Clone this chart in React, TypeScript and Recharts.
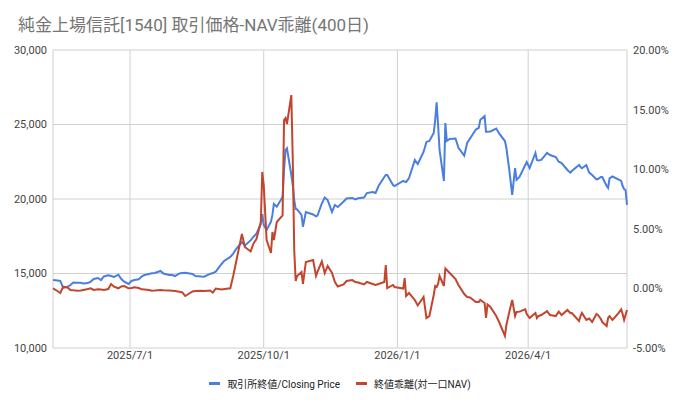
import {
  CartesianGrid,
  ComposedChart,
  Line,
  XAxis,
  YAxis,
} from "recharts";

const dates = [
  "2025-05-09", "2025-05-12", "2025-05-14", "2025-05-16", "2025-05-19", "2025-05-21", "2025-05-23", "2025-05-26", "2025-05-28", "2025-05-30",
  "2025-06-02", "2025-06-04", "2025-06-06", "2025-06-09", "2025-06-11", "2025-06-13", "2025-06-16", "2025-06-18", "2025-06-20", "2025-06-23",
  "2025-06-25", "2025-06-27", "2025-06-30", "2025-07-02", "2025-07-04", "2025-07-07", "2025-07-09", "2025-07-11", "2025-07-14", "2025-07-16",
  "2025-07-18", "2025-07-22", "2025-07-24", "2025-07-28", "2025-07-30", "2025-08-01", "2025-08-04", "2025-08-06", "2025-08-08", "2025-08-13",
  "2025-08-15", "2025-08-19", "2025-08-21", "2025-08-25", "2025-08-27", "2025-08-29", "2025-09-02", "2025-09-04", "2025-09-08", "2025-09-10",
  "2025-09-12", "2025-09-16", "2025-09-18", "2025-09-22", "2025-09-24", "2025-09-26", "2025-09-29", "2025-09-30", "2025-10-01", "2025-10-03",
  "2025-10-06", "2025-10-07", "2025-10-08", "2025-10-10", "2025-10-14", "2025-10-15", "2025-10-16", "2025-10-17", "2025-10-20", "2025-10-21",
  "2025-10-22", "2025-10-23", "2025-10-24", "2025-10-27", "2025-10-28", "2025-10-30", "2025-11-04", "2025-11-06", "2025-11-07", "2025-11-10",
  "2025-11-12", "2025-11-14", "2025-11-17", "2025-11-19", "2025-11-21", "2025-11-25", "2025-11-27", "2025-12-01", "2025-12-03", "2025-12-05",
  "2025-12-09", "2025-12-11", "2025-12-15", "2025-12-17", "2025-12-19", "2025-12-23", "2025-12-24", "2025-12-25", "2025-12-29", "2025-12-30",
  "2026-01-05", "2026-01-06", "2026-01-07", "2026-01-09", "2026-01-13", "2026-01-15", "2026-01-19", "2026-01-21", "2026-01-23", "2026-01-26",
  "2026-01-27", "2026-01-28", "2026-01-29", "2026-01-30", "2026-02-02", "2026-02-03", "2026-02-04", "2026-02-06", "2026-02-10", "2026-02-12",
  "2026-02-16", "2026-02-18", "2026-02-20", "2026-02-24", "2026-02-26", "2026-02-27", "2026-03-02", "2026-03-03", "2026-03-04", "2026-03-06",
  "2026-03-10", "2026-03-12", "2026-03-16", "2026-03-17", "2026-03-19", "2026-03-21", "2026-03-23", "2026-03-24", "2026-03-26", "2026-03-30",
  "2026-03-31", "2026-04-02", "2026-04-06", "2026-04-07", "2026-04-08", "2026-04-10", "2026-04-14", "2026-04-16", "2026-04-20", "2026-04-22",
  "2026-04-24", "2026-04-28", "2026-04-30", "2026-05-01", "2026-05-06", "2026-05-07", "2026-05-08", "2026-05-11", "2026-05-13", "2026-05-15",
  "2026-05-18", "2026-05-19", "2026-05-21", "2026-05-22", "2026-05-25", "2026-05-26", "2026-05-27", "2026-05-29", "2026-06-02", "2026-06-04",
  "2026-06-05", "2026-06-06", "2026-06-07", "2026-06-08",
];

// 取引所終値 (円)
const closingPrice = [
  14560, 14530, 14500, 14030, 14100, 14230, 14400, 14380, 14380, 14330,
  14360, 14460, 14630, 14700, 14560, 14800, 14880, 14830, 14770, 14920,
  14630, 14450, 14300, 14500, 14560, 14610, 14800, 14900, 14970, 15010,
  15030, 15170, 15000, 14900, 14900, 14830, 15000, 15030, 15050, 14970,
  14830, 14800, 14790, 14970, 15030, 15120, 15640, 15860, 16110, 16340,
  16640, 17110, 16880, 17220, 17470, 17680, 18320, 18990, 18260, 17920,
  18480, 18930, 19670, 19480, 20130, 21950, 23290, 23400, 21610, 20940,
  19930, 19330, 19300, 18930, 18140, 19130, 18960, 18830, 18890, 19710,
  20100, 19930, 19130, 19600, 19460, 19830, 20030, 20070, 19970, 20050,
  20100, 20400, 20470, 20400, 20870, 21480, 21610, 21610, 20940, 20870,
  21210, 21170, 21140, 21410, 22620, 22350, 23160, 23830, 23900, 24430,
  25300, 26490, 24970, 23290, 21210, 25100, 23900, 24030, 24060, 23440,
  22910, 23760, 24060, 24660, 24770, 25300, 25570, 24520, 24520, 24530,
  24730, 24400, 23890, 23420, 21950, 20270, 22080, 21280, 21480, 22280,
  22480, 22080, 23090, 22620, 22580, 22620, 23090, 22950, 22820, 22500,
  22410, 21950, 21770, 21880, 22280, 22150, 22060, 22280, 21770, 21610,
  21310, 21340, 21480, 21480, 20870, 20740, 21380, 21510, 21310, 21210,
  20870, 20670, 20600, 19600,
];

// 終値乖離 (対一口NAV, %)
const navDeviation = [
  0.01, -0.22, -0.39, 0.14, 0.08, -0.13, -0.16, -0.19, -0.18, -0.13,
  -0.05, 0.01, -0.13, -0.08, -0.09, -0.13, -0.05, 0.37, 0.14, 0.01,
  0.16, 0.2, 0.01, 0.03, 0.09, 0.03, -0.08, -0.09, -0.13, -0.19,
  -0.18, -0.13, -0.16, -0.18, -0.19, -0.22, -0.28, -0.34, -0.64, -0.26,
  -0.22, -0.19, -0.22, -0.18, -0.36, -0.01, -0.09, -0.05, 0.01, 1.04,
  2.21, 4.56, 3.47, 3.1, 3.78, 4.14, 5.57, 9.77, 8.67, 4.06,
  2.97, 4.73, 4.06, 5.57, 6.12, 14.13, 14.29, 13.79, 16.22, 10.77,
  3.22, 0.62, 1.04, 1.38, 0.37, 2.21, 2.38, 1.04, 1.38, 2.26,
  1.29, 1.88, 1.29, 0.54, 0.16, 0.33, 0.62, 0.7, 0.54, 0.49,
  0.33, 0.54, 0.37, 0.29, 0.37, 0.54, 1.96, 0.03, 0.29, 0.12,
  -0.01, 0.87, -0.64, -0.39, -0.97, -1.43, -0.72, -2.48, -2.32, -0.55,
  0.2, 0.12, 0.37, 1.04, 0.2, 1.67, 1.54, 1.29, 0.79, 0.29,
  -0.47, -0.72, -0.76, -1.14, -1.14, -0.97, -1.22, -2.48, -1.35, -1.56,
  -2.32, -2.82, -3.99, -3.07, -1.98, -0.97, -2.32, -1.98, -1.95, -1.75,
  -2.15, -2.48, -2.06, -2.48, -2.32, -2.23, -1.9, -2.23, -2.32, -1.95,
  -2.23, -1.81, -2.06, -2.06, -2.73, -2.32, -2.06, -2.65, -2.53, -2.82,
  -2.15, -2.23, -2.57, -2.82, -3.15, -2.48, -2.32, -2.65, -2.09, -1.77,
  -2.15, -2.65, -2.23, -1.81,
];

const xTickLabels = ["2025/7/1", "2025/10/1", "2026/1/1", "2026/4/1"];
const priceTicks = [10000, 15000, 20000, 25000, 30000];
const deviationTicks = [-5, 0, 5, 10, 15, 20];

const toTime = (s: string) => {
  const [y, m, d] = s.split(/[-/]/).map(Number);
  return Date.UTC(y, m - 1, d);
};

const data = dates.map((d, i) => ({
  t: toTime(d),
  price: closingPrice[i],
  dev: navDeviation[i],
}));

const xTicks = xTickLabels.map(toTime);

const BLUE = "#4a7fdf";
const RED = "#c4452d";
const FONT = "Roboto, 'Noto Sans CJK JP', sans-serif";

const tickStyle = { fontSize: 11, fill: "#444", fontFamily: FONT };

const LegendItem = ({ color, label }: { color: string; label: string }) => (
  <div style={{ display: "flex", alignItems: "center" }}>
    <span
      style={{
        display: "inline-block",
        width: 11,
        height: 3,
        background: color,
        marginRight: 7,
      }}
    />
    <span>{label}</span>
  </div>
);

export default function App() {
  return (
    <div
      style={{
        position: "absolute",
        left: 0,
        top: 0,
        width: 680,
        height: 400,
        background: "#fff",
        fontFamily: FONT,
      }}
    >
      <div
        style={{
          position: "absolute",
          left: 18,
          top: 11,
          fontSize: 17,
          color: "#757575",
          whiteSpace: "nowrap",
        }}
      >
        純金上場信託[1540] 取引価格-NAV乖離(400日)
      </div>
      <ComposedChart
        width={680}
        height={400}
        data={data}
        margin={{ top: 50, right: 0, bottom: 32, left: 0 }}
      >
        <CartesianGrid stroke="#d0d0d0" yAxisId="left" />
        <XAxis
          dataKey="t"
          type="number"
          domain={[data[0].t, data[data.length - 1].t]}
          ticks={xTicks}
          tickFormatter={(v: number) => xTickLabels[xTicks.indexOf(v)] ?? ""}
          axisLine={false}
          tickLine={false}
          tickSize={0}
          tickMargin={3}
          height={20}
          tick={tickStyle}
        />
        <YAxis
          yAxisId="left"
          domain={[10000, 30000]}
          ticks={priceTicks}
          tickFormatter={(v: number) => v.toLocaleString("en-US")}
          axisLine={false}
          tickLine={false}
          tickSize={6}
          tickMargin={0}
          width={53}
          tick={tickStyle}
        />
        <YAxis
          yAxisId="right"
          orientation="right"
          domain={[-5, 20]}
          ticks={deviationTicks}
          tickFormatter={(v: number) => `${v.toFixed(2)}%`}
          axisLine={false}
          tickLine={false}
          tickSize={6}
          tickMargin={0}
          width={53}
          tick={tickStyle}
        />
        <Line
          yAxisId="left"
          dataKey="price"
          type="linear"
          stroke={BLUE}
          strokeWidth={2}
          dot={false}
          isAnimationActive={false}
        />
        <Line
          yAxisId="right"
          dataKey="dev"
          type="linear"
          stroke={RED}
          strokeWidth={2}
          dot={false}
          isAnimationActive={false}
        />
      </ComposedChart>
      <div
        style={{
          position: "absolute",
          left: 0,
          top: 376,
          width: 680,
          display: "flex",
          justifyContent: "center",
          gap: 16,
          fontSize: 10,
          color: "#222",
        }}
      >
        <LegendItem color={BLUE} label="取引所終値/Closing Price" />
        <LegendItem color={RED} label="終値乖離(対一口NAV)" />
      </div>
    </div>
  );
}
